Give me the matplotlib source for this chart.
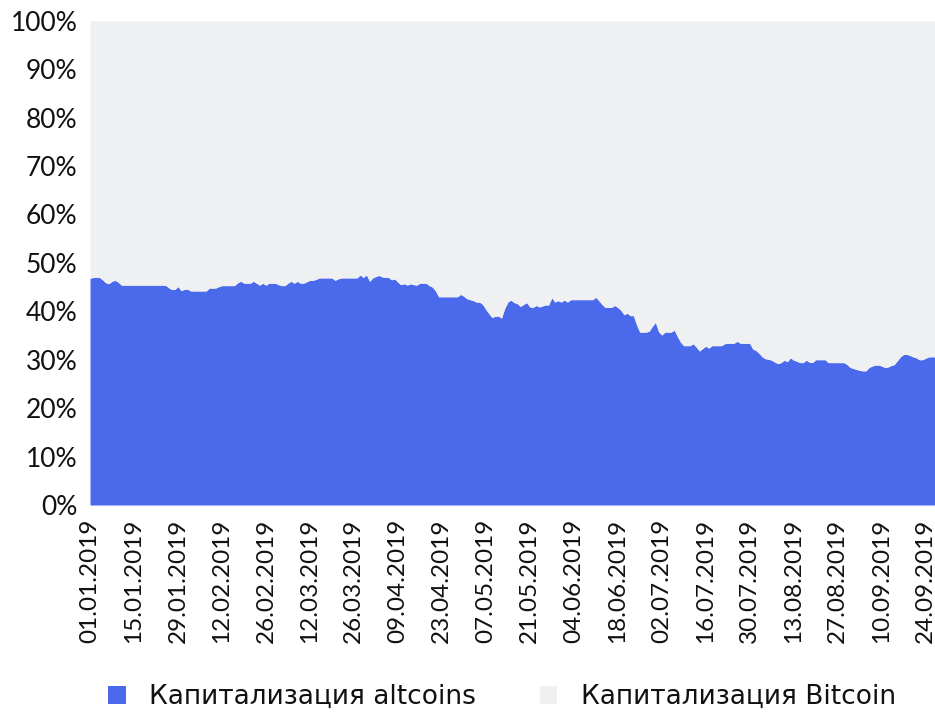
import pandas as pd
import matplotlib
matplotlib.use("Agg")
import matplotlib.pyplot as plt
from matplotlib.patches import Patch

plt.rcParams['font.family'] = ['Lato', 'DejaVu Sans']

# altcoin share of total market cap, %, one value per day from 01.01.2019
alt_share = [
    46.8, 47.0, 47.0, 47.0, 46.5, 45.9, 45.7, 46.2, 46.4, 46.0,
    45.4, 45.4, 45.4, 45.4, 45.4, 45.4, 45.4, 45.4, 45.4, 45.4,
    45.4, 45.4, 45.4, 45.4, 45.4, 44.9, 44.5, 44.5, 45.1, 44.3,
    44.5, 44.6, 44.2, 44.2, 44.2, 44.2, 44.2, 44.2, 44.8, 44.8,
    44.8, 45.1, 45.3, 45.3, 45.3, 45.3, 45.3, 45.9, 46.2, 45.8,
    45.8, 45.8, 46.2, 45.8, 45.4, 45.8, 45.4, 45.8, 45.8, 45.8,
    45.5, 45.3, 45.3, 45.8, 46.2, 45.8, 46.2, 45.8, 45.8, 46.1,
    46.4, 46.4, 46.6, 46.9, 46.9, 46.9, 46.9, 46.9, 46.4, 46.7,
    46.9, 46.9, 46.9, 46.9, 46.9, 46.9, 47.5, 47.0, 47.5, 46.2,
    46.9, 47.2, 47.4, 47.1, 47.0, 47.0, 46.5, 46.7, 46.0, 45.5,
    45.7, 45.4, 45.7, 45.5, 45.4, 45.8, 45.8, 45.8, 45.3, 45.0,
    44.2, 43.0, 43.0, 43.0, 43.0, 43.0, 43.0, 43.0, 43.5, 43.1,
    42.6, 42.4, 42.2, 41.9, 41.9, 41.4, 40.4, 39.5, 38.7, 39.0,
    39.0, 38.6, 40.6, 41.9, 42.3, 41.8, 41.6, 41.0, 41.4, 41.8,
    40.9, 40.8, 41.2, 40.9, 41.1, 41.3, 41.3, 42.8, 41.9, 42.2,
    41.9, 42.3, 41.9, 42.4, 42.4, 42.4, 42.4, 42.4, 42.4, 42.4,
    42.4, 42.9, 42.2, 41.4, 40.8, 40.8, 40.8, 41.2, 40.8, 40.2,
    39.3, 39.6, 39.1, 39.1, 37.2, 35.7, 35.7, 35.7, 35.9, 36.9,
    37.7, 35.8, 35.1, 35.7, 35.7, 35.7, 36.1, 34.8, 33.6, 32.9,
    32.9, 32.9, 33.3, 32.6, 31.8, 32.3, 32.8, 32.4, 32.9, 32.9,
    32.9, 32.9, 33.3, 33.4, 33.4, 33.4, 33.8, 33.4, 33.4, 33.4,
    33.4, 32.2, 31.9, 31.3, 30.6, 30.2, 30.1, 29.9, 29.5, 29.2,
    29.4, 29.9, 29.6, 30.4, 29.9, 29.7, 29.4, 29.4, 29.9, 29.5,
    29.4, 30.0, 30.0, 30.0, 30.0, 29.4, 29.4, 29.4, 29.4, 29.4,
    29.4, 29.0, 28.4, 28.2, 28.0, 27.8, 27.7, 27.7, 28.4, 28.7,
    28.9, 28.9, 28.7, 28.4, 28.5, 28.8, 29.0, 29.8, 30.6, 31.1,
    31.1, 30.9, 30.6, 30.4, 30.0, 30.0, 30.3, 30.6, 30.6, 30.6,
]
btc_share = [100 - v for v in alt_share]

dates = pd.date_range('2019-01-01', periods=len(alt_share), freq='D')
tick_step = 14
y_ticks = list(range(0, 101, 10))

blue = '#4b69eb'
grey = '#eff0f2'

fig = plt.figure(figsize=(9.35, 7.13), dpi=100)
ax = fig.add_axes([90 / 935, 1 - 505 / 713, 845 / 935, (505 - 20.7) / 713])

x = list(range(len(dates)))
ax.fill_between(x, 0, alt_share, color=blue, lw=0)
ax.fill_between(x, alt_share, 100, color=grey, lw=0)

ax.set_xlim(0, len(dates) - 1)
ax.set_ylim(0, 100)

ax.set_yticks(y_ticks)
ax.set_yticklabels(['{}%'.format(t) for t in y_ticks])
ax.set_xticks(x[::tick_step])
ax.set_xticklabels([d.strftime('%d.%m.%Y') for d in dates[::tick_step]], rotation=90)

ax.tick_params(axis='y', length=0, pad=9, labelsize=19, colors='#111111')
ax.tick_params(axis='x', length=0, pad=10, labelsize=17.5, colors='#111111')
for s in ax.spines.values():
    s.set_visible(False)

handles = [Patch(facecolor=blue, edgecolor='none', label='Капитализация altcoins'),
           Patch(facecolor=grey, edgecolor='none', label='Капитализация Bitcoin')]
fig.legend(handles=handles, loc='center', bbox_to_anchor=(502 / 935, 1 - 697 / 713),
           ncol=2, frameon=False, handlelength=0.68, handleheight=0.68,
           handletextpad=0.9, columnspacing=2.4, labelcolor='#111111',
           borderpad=0.1, prop={'family': 'DejaVu Sans', 'size': 19})

fig.savefig('out.png', dpi=100)
